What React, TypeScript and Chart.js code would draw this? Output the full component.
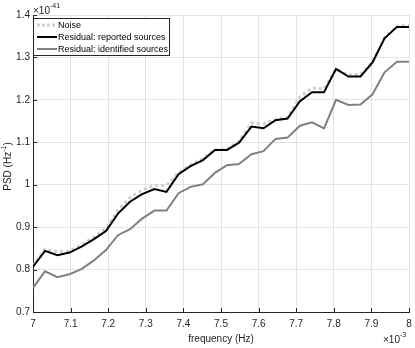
import React, { useEffect, useRef } from "react";
import { Chart, registerables } from "chart.js";

Chart.register(...registerables);

// frequency in units of 1e-3 Hz
const freq = [
  7.0, 7.032, 7.065, 7.097, 7.129, 7.161, 7.194, 7.226, 7.258, 7.29, 7.323,
  7.355, 7.387, 7.419, 7.452, 7.484, 7.516, 7.548, 7.581, 7.613, 7.645, 7.677,
  7.71, 7.742, 7.774, 7.806, 7.839, 7.871, 7.903, 7.935, 7.968, 8.0,
];
// PSD in units of 1e-41 Hz^-1
const noise = [
  0.808, 0.848, 0.842, 0.844, 0.858, 0.876, 0.897, 0.94, 0.97, 0.988, 0.998,
  0.998, 1.028, 1.046, 1.062, 1.082, 1.084, 1.102, 1.146, 1.143, 1.155, 1.158,
  1.207, 1.228, 1.226, 1.272, 1.259, 1.26, 1.29, 1.347, 1.374, 1.376,
];
const reported = [
  0.807, 0.844, 0.834, 0.84, 0.854, 0.871, 0.891, 0.932, 0.96, 0.978, 0.99,
  0.983, 1.025, 1.044, 1.058, 1.082, 1.082, 1.099, 1.137, 1.133, 1.152, 1.156,
  1.197, 1.218, 1.218, 1.273, 1.255, 1.255, 1.288, 1.345, 1.372, 1.372,
];
const identified = [
  0.757, 0.796, 0.782, 0.789, 0.801, 0.821, 0.846, 0.881, 0.895, 0.92, 0.939,
  0.939, 0.98, 0.995, 1.001, 1.028, 1.046, 1.049, 1.072, 1.079, 1.108, 1.111,
  1.139, 1.147, 1.133, 1.2, 1.188, 1.189, 1.213, 1.265, 1.29, 1.29,
];
const seriesNames = [
  "Noise",
  "Residual: reported sources",
  "Residual: identified sources",
];
const xTitle = "frequency (Hz)";
const xExponent = "-3";
const yExponent = "-41";

const FONT = "'Liberation Sans', Arial, Helvetica, sans-serif";
const AXIS_COLOR = "#262626";
const GRID_COLOR = "#e3e3e3";
const NOISE_COLOR = "#cfcfcf";
const GRAY_COLOR = "#808080";

const fmt = (v: any) => String(Number(Number(v).toFixed(1)));

const overlayPlugin = {
  id: "overlay",
  afterDraw(chart: any) {
    const ctx = chart.ctx as CanvasRenderingContext2D;
    const area = chart.chartArea;
    const xs = chart.scales.x;
    const ys = chart.scales.y;
    ctx.save();
    // inward tick marks
    ctx.strokeStyle = AXIS_COLOR;
    ctx.lineWidth = 1;
    xs.ticks.forEach((t: any) => {
      const px = Math.round(xs.getPixelForValue(t.value)) + 0.5;
      ctx.beginPath();
      ctx.moveTo(px, area.bottom);
      ctx.lineTo(px, area.bottom - 4);
      ctx.stroke();
    });
    ys.ticks.forEach((t: any) => {
      const py = Math.round(ys.getPixelForValue(t.value)) + 0.5;
      ctx.beginPath();
      ctx.moveTo(area.left, py);
      ctx.lineTo(area.left + 4, py);
      ctx.stroke();
    });

    // legend
    const lx = 33.5, ly = 18.5, lw = 136, lh = 37;
    ctx.fillStyle = "#ffffff";
    ctx.fillRect(lx, ly, lw, lh);
    ctx.strokeStyle = AXIS_COLOR;
    ctx.lineWidth = 1;
    ctx.strokeRect(lx, ly, lw, lh);
    const rows = [25, 37, 49];
    const styles = [
      { color: NOISE_COLOR, width: 3, dash: [3, 2] },
      { color: "#000000", width: 2, dash: [] as number[] },
      { color: GRAY_COLOR, width: 2, dash: [] as number[] },
    ];
    rows.forEach((ry, i) => {
      ctx.beginPath();
      ctx.setLineDash(styles[i].dash);
      ctx.strokeStyle = styles[i].color;
      ctx.lineWidth = styles[i].width;
      ctx.moveTo(37, ry);
      ctx.lineTo(57, ry);
      ctx.stroke();
      ctx.setLineDash([]);
      ctx.fillStyle = "#000000";
      ctx.font = `9px ${FONT}`;
      ctx.textAlign = "left";
      ctx.textBaseline = "middle";
      ctx.fillText(seriesNames[i], 58, ry + 0.5);
    });

    // exponent labels
    ctx.fillStyle = AXIS_COLOR;
    ctx.textBaseline = "alphabetic";
    ctx.textAlign = "left";
    ctx.font = `10px ${FONT}`;
    ctx.fillText("\u00d710", 33, 14);
    let w = ctx.measureText("\u00d710").width;
    ctx.font = `7px ${FONT}`;
    ctx.fillText(yExponent, 33 + w, 8);

    ctx.font = `10px ${FONT}`;
    ctx.fillText("\u00d710", 383, 343);
    w = ctx.measureText("\u00d710").width;
    ctx.font = `7px ${FONT}`;
    ctx.fillText(xExponent, 383 + w, 337);

    // x title
    ctx.font = `10px ${FONT}`;
    ctx.textAlign = "center";
    ctx.textBaseline = "middle";
    ctx.fillText(xTitle, (area.left + area.right) / 2, 339);

    // y title
    ctx.translate(8, (area.top + area.bottom) / 2 + 3);
    ctx.rotate(-Math.PI / 2);
    ctx.textAlign = "left";
    ctx.textBaseline = "middle";
    ctx.font = `10px ${FONT}`;
    const p1 = "PSD (Hz";
    const p3 = ")";
    const w1 = ctx.measureText(p1).width;
    const w3 = ctx.measureText(p3).width;
    ctx.font = `7px ${FONT}`;
    const w2 = ctx.measureText("-1").width;
    const total = w1 + w2 + w3;
    let cx = -total / 2;
    ctx.font = `10px ${FONT}`;
    ctx.fillText(p1, cx, 0);
    cx += w1;
    ctx.font = `7px ${FONT}`;
    ctx.fillText("-1", cx, -4);
    cx += w2;
    ctx.font = `10px ${FONT}`;
    ctx.fillText(p3, cx, 0);
    ctx.restore();
  },
};

export default function App() {
  const ref = useRef<HTMLCanvasElement | null>(null);
  useEffect(() => {
    if (!ref.current) return;
    const toPts = (arr: number[]) => freq.map((f, i) => ({ x: f, y: arr[i] }));
    const chart = new Chart(ref.current, {
      type: "line",
      data: {
        datasets: [
          {
            label: seriesNames[0],
            data: toPts(noise),
            borderColor: NOISE_COLOR,
            borderWidth: 3,
            borderDash: [3, 3],
            pointRadius: 0,
            tension: 0,
            order: 3,
          },
          {
            label: seriesNames[1],
            data: toPts(reported),
            borderColor: "#000000",
            borderWidth: 2,
            pointRadius: 0,
            tension: 0,
            order: 2,
          },
          {
            label: seriesNames[2],
            data: toPts(identified),
            borderColor: GRAY_COLOR,
            borderWidth: 2,
            pointRadius: 0,
            tension: 0,
            order: 1,
          },
        ],
      },
      options: {
        responsive: false,
        animation: false,
        devicePixelRatio: 1,
        layout: { padding: { top: 15, right: 6, left: 0, bottom: 0 } },
        plugins: {
          legend: { display: false },
          tooltip: { enabled: false },
          title: { display: false },
        },
        scales: {
          x: {
            type: "linear",
            min: 7,
            max: 8,
            afterFit: (s: any) => {
              s.height = 36;
              s.paddingLeft = 0;
              s.paddingRight = 0;
            },
            ticks: {
              stepSize: 0.1,
              color: AXIS_COLOR,
              font: { family: FONT, size: 10 },
              padding: 6,
              maxRotation: 0,
              autoSkip: false,
              callback: (v: any) => fmt(v),
            },
            grid: { color: GRID_COLOR, drawTicks: false, lineWidth: 1 },
            border: { color: AXIS_COLOR, width: 1 },
          },
          y: {
            type: "linear",
            min: 0.7,
            max: 1.4,
            afterFit: (s: any) => {
              s.width = 33;
              s.paddingTop = 0;
              s.paddingBottom = 0;
            },
            ticks: {
              stepSize: 0.1,
              color: AXIS_COLOR,
              font: { family: FONT, size: 10 },
              padding: 3,
              callback: (v: any) => fmt(v),
            },
            grid: { color: GRID_COLOR, drawTicks: false, lineWidth: 1 },
            border: { color: AXIS_COLOR, width: 1 },
          },
        },
      },
      plugins: [overlayPlugin],
    });
    return () => chart.destroy();
  }, []);
  return (
    <div style={{ position: "fixed", left: 0, top: 0, width: 415, height: 348, background: "#fff" }}>
      <canvas ref={ref} width={415} height={348} />
    </div>
  );
}
